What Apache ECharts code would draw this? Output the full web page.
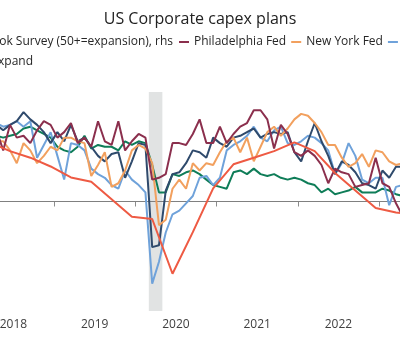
<!DOCTYPE html>
<html>
<head>
<meta charset="utf-8">
<script src="https://cdn.jsdelivr.net/npm/echarts@6/dist/echarts.min.js"></script>
<style>
html,body{margin:0;padding:0;width:400px;height:340px;overflow:hidden;background:#fff;}
#chart{position:absolute;left:-150px;top:0;width:700px;height:340px;}
</style>
</head>
<body>
<div id="chart"></div>
<script>
// Monthly survey readings, Jan 2018 .. May 2023 (lhs)
const startYear = 2018;
const philly = [36,40,33,39,28,42,35,36,32,39, 44,42,35,38,43,32,35,30,44,33, 31,44,28,33,37,35,12,13,15,32, 32,31,37,45,32,32,41,32,37,41, 43,50,50,45,29,42,37,27,25,28, 25,20,10,18,16,15,8,9,10,24, 10,8,-1,-8,-10];
const nyFed = [28,33,27,33,33,28,21,32,28,21, 25,30,28,35,35,33,32,14,20,27, 8,10,17,28,31,29,21,-13,-10,7, 12,7,21,17,21,20,27,33,35,27, 35,22,30,38,41,36,40,45,48,47, 43,38,31,31,24,19,21,26,19,28, 27,22,20,21,24];
const richmond = [40,43,39,43,41,42,44,41,44,24, 31,38,25,12,32,31,28,18,15,13, 9,7,17,12,9,5,-45,-33,-17,-7, -5,-1,3,13,14,9,13,28,31,33, 36,41,35,33,39,41,32,31,33,36, 35,32,28,15,21,32,25,12,10,13, 13,-2,8,9,10];
const kansasCity = [36,40,38,42,39,42,44,49,45,42, 38,32,38,33,42,33,35,30,25,22, 26,27,13,22,32,31,-25,-24,6,15, 16,21,28,27,24,35,32,30,35,36, 38,40,35,37,38,37,38,27,22,33, 43,33,25,15,22,20,16,10,9,7, 17,13,19,19,18];
const nfib = [35,36,33,36,35,36,37,40,41,39, 37,35,30,28,27,30,36,29,31,30, 30,28,33,31,33,32,20,5,5,15, 14,16,17,15,12,9,8,7,16,17, 15,18,15,14,15,13,12,13,12,10, 9,5,7,4,5,6,8,5,5,5, 7,6,4,3,3];
// Quarterly CEO survey (rhs, 50+ = expansion)
const brtQuarters = ['2017-12','2018-03','2018-06','2018-09','2018-12','2019-03','2019-06','2019-09','2019-12','2020-03','2020-06','2020-09','2020-12','2021-03','2021-06','2021-09','2021-12','2022-03','2022-06','2022-09','2022-12','2023-03','2023-06'];
const brt = [80,77,73,70,66,61,59,51,43,42,17,36,56,67,70,73,77,73,63,55,47,45,44];
const yearTicks = [2017,2018,2019,2020,2021,2022,2023,2024];
const yearLabels = ['2017','2018','2019','2020','2021','2022','2023'];
const recession = ['2020-03','2020-05'];

const names = {
  brt: 'Business Roundtable CEO Outlook Survey (50+=expansion), rhs',
  philly: 'Philadelphia Fed',
  ny: 'New York Fed',
  rich: 'Richmond Fed',
  kc: 'Kansas City Fed',
  nfib: 'NFIB: Good time to expand'
};
const colors = {brt:'#ee5a43', philly:'#8b2f4d', ny:'#f2a05e', rich:'#6fa2da', kc:'#2f4a6c', nfib:'#0f7d58'};

// month string 'YYYY-MM' -> decimal year at mid-month
function midMonth(s){ const [y,m] = s.split('-').map(Number); return y + (m - 0.5)/12; }
function monthStart(s){ const [y,m] = s.split('-').map(Number); return y + (m - 1)/12; }
function monthly(arr){ return arr.map((v,i)=>[startYear + (i + 0.5)/12, v]); }
const brtData = brtQuarters.map((q,i)=>[midMonth(q), brt[i]]);

const FONT = 'Open Sans';
function line(name, color, data, yAxisIndex){
  return {name, type:'line', data, yAxisIndex, symbol:'none', smooth:false,
    lineStyle:{color, width:2}, itemStyle:{color}, animation:false};
}

const chart = echarts.init(document.getElementById('chart'), null, {renderer:'canvas'});
const legendBase = {orient:'horizontal', padding:0, itemWidth:10, itemHeight:2, icon:'rect', itemGap:5,
  textStyle:{fontFamily:FONT, fontSize:12, color:'#262626', lineHeight:14}};
chart.setOption({
  animation:false,
  textStyle:{fontFamily:FONT},
  title:{text:'US Corporate capex plans', left:'center', top:11, padding:0,
    textStyle:{fontFamily:FONT, fontSize:16, fontWeight:'normal', color:'#222'}},
  legend:[
    Object.assign({}, legendBase, {data:[names.brt], right:377, top:35}),
    Object.assign({}, legendBase, {data:[names.philly, names.ny, names.rich], left:329, top:35}),
    Object.assign({}, legendBase, {data:[names.kc], left:620, top:35}),
    Object.assign({}, legendBase, {data:[names.nfib], right:517, top:55})
  ],
  grid:{left:41.5, right:89.7, top:92, bottom:29, containLabel:false},
  xAxis:{type:'value', min:yearTicks[0], max:yearTicks[yearTicks.length-1],
    axisLine:{show:true, lineStyle:{color:'#8c8c8c', width:1}},
    axisTick:{show:true, length:5, lineStyle:{color:'#8c8c8c'}, customValues: yearTicks},
    axisLabel:{show:true, fontFamily:FONT, fontSize:12, color:'#404040', margin:8,
      customValues: yearLabels.map(y=>Number(y)+0.5),
      formatter:(v)=>String(Math.floor(v))},
    splitLine:{show:false}},
  yAxis:[
    {type:'value', min:-60, max:60, splitLine:{show:false}, axisLine:{show:false}, axisTick:{show:false},
      axisLabel:{show:true, color:'#404040'}},
    {type:'value', min:0, max:100, splitLine:{show:false}, axisLine:{show:false}, axisTick:{show:false},
      axisLabel:{show:true, color:'#404040'}}
  ],
  series:[
    {type:'line', name:'_ref', data:[], yAxisIndex:0, silent:true,
      markArea:{silent:true, itemStyle:{color:'#e1e3e3'}, data:[[{xAxis:monthStart(recession[0])},{xAxis:monthStart(recession[1])}]]},
      markLine:{silent:true, symbol:'none', z:1, label:{show:false}, lineStyle:{color:'#808080', width:1, type:'solid'},
        data:[{yAxis:0}]}},
    line(names.nfib, colors.nfib, monthly(nfib), 0),
    line(names.rich, colors.rich, monthly(richmond), 0),
    line(names.kc, colors.kc, monthly(kansasCity), 0),
    line(names.ny, colors.ny, monthly(nyFed), 0),
    line(names.philly, colors.philly, monthly(philly), 0),
    line(names.brt, colors.brt, brtData, 1)
  ]
});
</script>
</body>
</html>
